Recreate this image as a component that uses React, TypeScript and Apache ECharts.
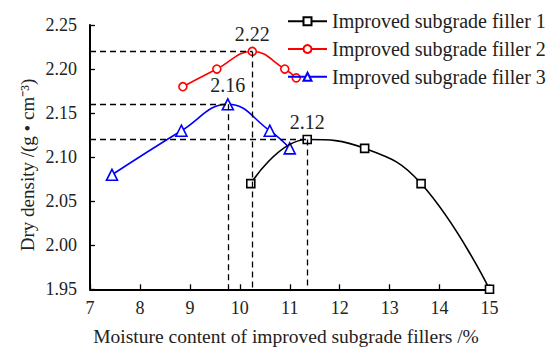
import React, { useEffect, useRef } from "react";
import * as echarts from "echarts";

// Moisture content (%) and dry density (g/cm³) for each filler
const filler1: [number, number][] = [
  [10.22, 2.07],
  [11.35, 2.12],
  [12.5, 2.11],
  [13.63, 2.07],
  [15.0, 1.95],
];
const filler2: [number, number][] = [
  [8.86, 2.18],
  [9.54, 2.2],
  [10.25, 2.22],
  [10.9, 2.2],
  [11.13, 2.19],
];
const filler3: [number, number][] = [
  [7.44, 2.08],
  [8.83, 2.13],
  [9.76, 2.16],
  [10.6, 2.13],
  [11.0, 2.11],
];

const seriesNames = [
  "Improved subgrade filler 1",
  "Improved subgrade filler 2",
  "Improved subgrade filler 3",
];
const seriesColors = ["#000000", "#ff0000", "#0000ff"];
const seriesSymbols = ["rect", "circle", "triangle"];
const seriesData = [filler1, filler2, filler3];

const xTicks = { min: 7, max: 15, interval: 1 };
const yTicks = { min: 1.95, max: 2.25, interval: 0.05 };

const FONT = "Liberation Serif";

function peakIndex(data: [number, number][]) {
  let best = 0;
  data.forEach((d, i) => {
    if (d[1] > data[best][1]) best = i;
  });
  return best;
}

export default function App() {
  const ref = useRef<HTMLDivElement>(null);

  useEffect(() => {
    if (!ref.current) return;
    const chart = echarts.init(ref.current, null, { renderer: "svg" });

    const series = seriesData.map((data, s) => {
      const pk = peakIndex(data);
      const [px, py] = data[pk];
      return {
        name: seriesNames[s],
        type: "line",
        smooth: 0.45,
        symbol: seriesSymbols[s],
        symbolSize: s === 2 ? 11 : 8,
        showAllSymbol: true,
        lineStyle: { color: seriesColors[s], width: 1.6 },
        itemStyle: {
          color: "#ffffff",
          borderColor: seriesColors[s],
          borderWidth: 1.6,
        },
        data: data.map((d, i) =>
          i === pk
            ? {
                value: d,
                label: {
                  show: true,
                  position: "top",
                  distance: 3,
                  formatter: () => py.toFixed(2),
                  fontFamily: FONT,
                  fontSize: 20,
                  color: "#222",
                },
              }
            : { value: d }
        ),
        // dashed guides from the axes to each series' peak
        markLine: {
          silent: true,
          symbol: "none",
          label: { show: false },
          lineStyle: { color: "#000", type: [6, 4], width: 1.3 },
          data: [
            [{ coord: [xTicks.min, py] }, { coord: [px, py] }],
            [{ coord: [px, py] }, { coord: [px, yTicks.min] }],
          ],
        },
        z: 3 - s,
      };
    });

    chart.setOption({
      animation: false,
      backgroundColor: "#ffffff",
      textStyle: { fontFamily: FONT },
      grid: { left: 90, right: 62.5, top: 25, bottom: 57.7 },
      legend: {
        orient: "vertical",
        left: 287,
        top: 11.3,
        padding: 0,
        itemWidth: 39,
        itemHeight: 10,
        itemGap: 7.7,
        data: seriesNames,
        textStyle: {
          fontFamily: FONT,
          fontSize: 20,
          color: "#222",
          lineHeight: 14,
        },
      },
      xAxis: {
        type: "value",
        min: xTicks.min,
        max: xTicks.max,
        interval: xTicks.interval,
        splitLine: { show: false },
        axisLine: { lineStyle: { color: "#000", width: 2 } },
        axisTick: { inside: true, length: 5, lineStyle: { color: "#000", width: 1.3 } },
        axisLabel: { fontFamily: FONT, fontSize: 18, color: "#222", margin: 10 },
      },
      yAxis: {
        type: "value",
        min: yTicks.min,
        max: yTicks.max,
        interval: yTicks.interval,
        splitLine: { show: false },
        axisLine: { show: true, lineStyle: { color: "#000", width: 2 } },
        axisTick: { show: true, inside: true, length: 5, lineStyle: { color: "#000", width: 1.3 } },
        axisLabel: {
          fontFamily: FONT,
          fontSize: 18,
          color: "#222",
          margin: 13,
          formatter: (v: number) => v.toFixed(2),
        },
      },
      graphic: [
        {
          type: "text",
          x: 286,
          y: 336,
          style: {
            text: "Moisture content of improved subgrade fillers /%",
            fontFamily: FONT,
            fontSize: 19.5,
            fill: "#222",
            textAlign: "center",
            textVerticalAlign: "middle",
          },
        },
        {
          type: "text",
          x: 27,
          y: 165,
          rotation: Math.PI / 2,
          style: {
            text: "Dry density /(g • cm⁻³)",
            fontFamily: FONT,
            fontSize: 19,
            fill: "#222",
            textAlign: "center",
            textVerticalAlign: "middle",
          },
        },
      ],
      series,
    });

    return () => chart.dispose();
  }, []);

  return <div ref={ref} style={{ width: 552, height: 347, position: "absolute", left: 0, top: 0 }} />;
}
